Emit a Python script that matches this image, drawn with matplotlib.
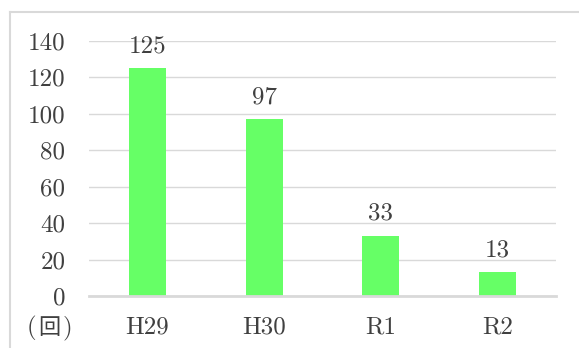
import matplotlib
matplotlib.use("Agg")
import matplotlib.pyplot as plt
from matplotlib.lines import Line2D

categories = ["H29", "H30", "R1", "R2"]
counts = [125, 97, 33, 13]
yticks = [0, 20, 40, 60, 80, 100, 120, 140]
unit_label = "(回)"

fonts = ["cmr10", "Noto Sans CJK JP", "DejaVu Serif"]
text_color = "#404040"
bar_color = "#66ff66"
grid_color = "#d9d9d9"
fs = 18

plt.rcParams["font.family"] = fonts
plt.rcParams["axes.formatter.use_mathtext"] = True

W, H = 579, 348
fig = plt.figure(figsize=(W / 100, H / 100), dpi=100)

# plot area in pixels: x 89..556, y 41 (140) .. 296 (0)
left, right, top, bottom = 89, 556, 41, 296
ax = fig.add_axes([left / W, 1 - bottom / H, (right - left) / W, (bottom - top) / H])

x = list(range(len(categories)))
ax.bar(x, counts, width=0.315, color=bar_color, zorder=3)
ax.set_xlim(-0.5, len(categories) - 0.5)
ax.set_ylim(0, 140)

ax.set_yticks(yticks)
ax.set_yticklabels([str(v) for v in yticks])
ax.set_xticks(x)
ax.set_xticklabels(categories)
ax.tick_params(axis="both", length=0, labelsize=fs, colors=text_color)
ax.tick_params(axis="y", pad=17)
ax.tick_params(axis="x", pad=15)

for s in ["top", "right", "left"]:
    ax.spines[s].set_visible(False)
ax.spines["bottom"].set_color(grid_color)
ax.spines["bottom"].set_linewidth(2.0)
ax.spines["bottom"].set_zorder(4)
ax.yaxis.grid(True, color=grid_color, linewidth=1.0, zorder=0)
ax.set_axisbelow(True)

for xi, v in zip(x, counts):
    ax.annotate(str(v), (xi, v), xytext=(0, 8), textcoords="offset points",
                ha="center", va="bottom", fontsize=fs, color=text_color)

# unit label, drawn piecewise so the parentheses sit a little apart
uy = 1 - 328 / H
fig.text(31 / W, uy, unit_label[0], ha="center", va="center",
         fontsize=fs, color=text_color)
fig.text(49 / W, uy, unit_label[1], ha="center", va="center",
         fontsize=fs - 2, color=text_color)
fig.text(67 / W, uy, unit_label[2], ha="center", va="center",
         fontsize=fs, color=text_color)

# chart frame: top and left edges
fig.add_artist(Line2D([9.5 / W, 1.0], [1 - 11.5 / H, 1 - 11.5 / H],
                      transform=fig.transFigure, color=grid_color, linewidth=1.5))
fig.add_artist(Line2D([9.5 / W, 9.5 / W], [0.0, 1 - 11.5 / H],
                      transform=fig.transFigure, color=grid_color, linewidth=1.5))

fig.savefig("out.png", dpi=100)
